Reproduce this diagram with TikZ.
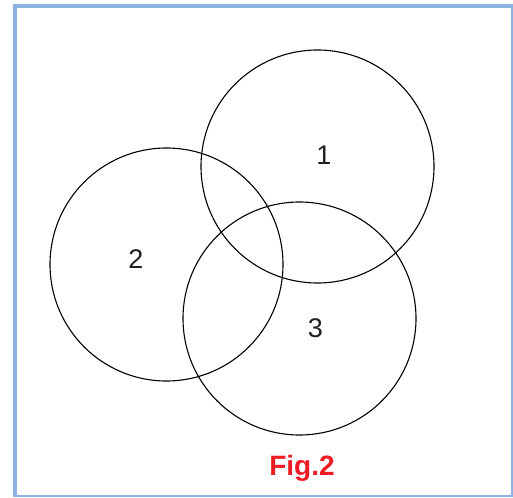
\documentclass[tikz,border=0pt]{standalone}
\usepackage{fontspec}
\setmainfont{Liberation Sans}
\definecolor{frameblue}{RGB}{141,179,226}
\definecolor{figred}{RGB}{237,28,36}
\definecolor{txtgray}{RGB}{35,31,32}
\begin{document}
\begin{tikzpicture}[x=1pt,y=-1pt,
  setcircle/.style={draw=black,line width=1.1pt,circle,minimum size=233pt,inner sep=0pt},
  numlabel/.style={font=\fontsize{27}{27}\selectfont,text=txtgray,inner sep=0pt},
  caption/.style={font=\fontsize{28}{28}\selectfont\bfseries,text=figred,inner sep=0pt},
  framebar/.style={draw=frameblue}]
\useasboundingbox (0,0) rectangle (513,497);
\fill[white] (0,0) rectangle (513,497);
% frame
\draw[framebar,line width=4pt] (15,4) -- (15,497);
\draw[framebar,line width=4pt] (13,6) -- (513,6);
\draw[framebar,line width=1.5pt] (512,4) -- (512,497);
\draw[framebar,line width=2pt] (13,496) -- (513,496);
% circles
\node[setcircle] (c1) at (317.5,166.5) {};
\node[setcircle] (c2) at (166.5,264.5) {};
\node[setcircle] (c3) at (299.5,318.5) {};
% labels
\node[numlabel] (l1) at (324,155) {1};
\node[numlabel] (l2) at (136,259) {2};
\node[numlabel] (l3) at (315.5,328.5) {3};
\node[caption] (cap) at (302,468.5) {Fig.2};
\end{tikzpicture}
\end{document}
